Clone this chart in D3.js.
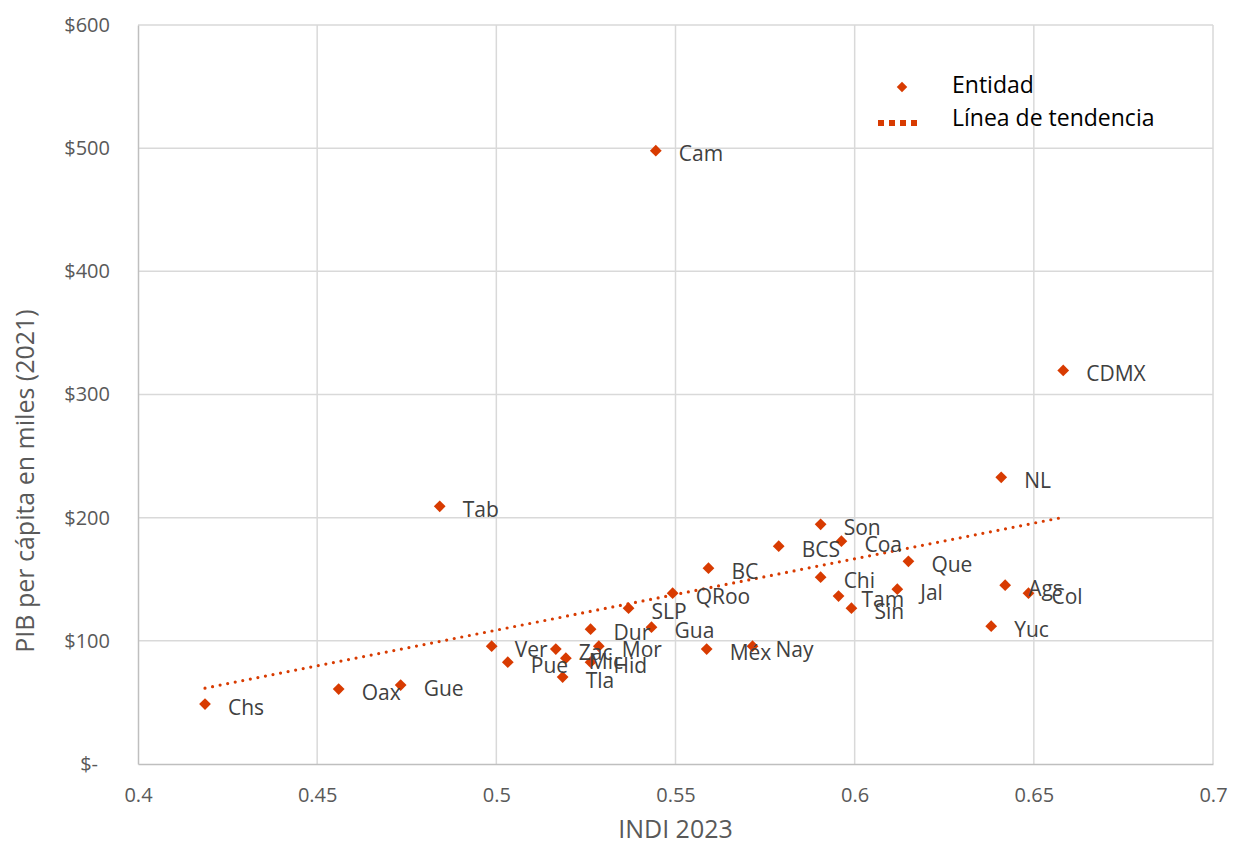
<!DOCTYPE html>
<meta charset="utf-8">
<script src="https://d3js.org/d3.v7.js"></script>
<style>
  body { margin: 0; background: #fff; }
  text { font-family: "Open Sans", sans-serif; }
</style>
<svg id="chart" width="1236" height="846"></svg>
<script>
  // states: INDI 2023 vs PIB per capita (miles, 2021)
  const states = ["Chs", "Oax", "Gue", "Tab", "Ver", "Pue", "Zac", "Mic", "Tla", "Hid",
    "Mor", "Dur", "SLP", "Gua", "QRoo", "Cam", "Méx", "BC", "Nay", "BCS",
    "Son", "Chi", "Coa", "Tam", "Sin", "Jal", "Que", "Yuc", "Ags", "Col", "NL", "CDMX"];
  const indi = [0.4187, 0.4560, 0.4733, 0.4842, 0.4987, 0.5032, 0.5166, 0.5194, 0.5185, 0.5263,
    0.5286, 0.5263, 0.5369, 0.5433, 0.5492, 0.5445, 0.5587, 0.5592, 0.5715, 0.5788,
    0.5905, 0.5905, 0.5963, 0.5955, 0.5991, 0.6119, 0.6150, 0.6381, 0.6420, 0.6485, 0.6409, 0.6582];
  const pib = [48.7, 60.8, 64.1, 209.2, 95.7, 82.7, 93.3, 85.9, 70.6, 82.7,
    95.7, 109.5, 126.5, 111.1, 138.7, 498, 93.3, 159, 95.7, 176.8,
    194.6, 151.7, 180.9, 136.3, 126.5, 141.9, 164.6, 111.9, 145.2, 138.7, 232.8, 319.5];

  // trend line ends
  const trendX = [0.4187, 0.6582];
  const trendY = [61.6, 200.3];

  const xTicks = [0.4, 0.45, 0.5, 0.55, 0.6, 0.65, 0.7];
  const yTicks = [0, 100, 200, 300, 400, 500, 600];
  const legendLabels = ["Entidad", "Línea de tendencia"];

  const color = "#d83b01";
  const svg = d3.select("#chart");
  const margin = { top: 25, right: 23, bottom: 82, left: 138 };
  const width = 1236, height = 846;

  const x = d3.scaleLinear().domain([0.4, 0.7]).range([margin.left, width - margin.right]);
  const y = d3.scaleLinear().domain([0, 600]).range([height - margin.bottom, margin.top]);

  // gridlines
  svg.append("g").selectAll("line.v")
    .data(xTicks.slice(1))
    .join("line")
    .attr("x1", d => x(d)).attr("x2", d => x(d))
    .attr("y1", y(0)).attr("y2", y(600))
    .attr("stroke", "#d9d9d9").attr("stroke-width", 1.5);
  svg.append("g").selectAll("line.h")
    .data(yTicks.slice(1))
    .join("line")
    .attr("x1", x(0.4)).attr("x2", x(0.7))
    .attr("y1", d => y(d)).attr("y2", d => y(d))
    .attr("stroke", "#d9d9d9").attr("stroke-width", 1.5);

  // axes
  const xAxis = svg.append("g")
    .attr("transform", `translate(0,${y(0)})`)
    .call(d3.axisBottom(x).tickValues(xTicks).tickSize(0).tickPadding(24).tickFormat(d => String(d)));
  const yAxis = svg.append("g")
    .attr("transform", `translate(${x(0.4)},0)`)
    .call(d3.axisLeft(y).tickValues(yTicks).tickSize(0).tickPadding(28).tickFormat(d => d === 0 ? "$-" : "$" + d));

  [xAxis, yAxis].forEach(g => {
    g.select(".domain").attr("stroke", "#bfbfbf").attr("stroke-width", 1.5);
    g.selectAll("text").attr("fill", "#595959").style("font-size", "20px")
      .style("font-family", "'Open Sans', sans-serif");
  });
  yAxis.selectAll(".tick").filter(d => d === 0).select("text").attr("dx", -12);

  // axis titles
  svg.append("text")
    .attr("x", (x(0.4) + x(0.7)) / 2).attr("y", 838)
    .attr("text-anchor", "middle")
    .attr("fill", "#595959").style("font-size", "25px")
    .text("INDI 2023");
  svg.append("text")
    .attr("transform", "translate(34,481) rotate(-90)")
    .attr("text-anchor", "middle")
    .attr("fill", "#595959").style("font-size", "25px")
    .text("PIB per cápita en miles (2021)");

  // trend line
  const trend = trendX.map((d, i) => [d, trendY[i]]);
  svg.append("path")
    .datum(trend)
    .attr("d", d3.line().x(d => x(d[0])).y(d => y(d[1])))
    .attr("stroke", color).attr("stroke-width", 3.2)
    .attr("stroke-linecap", "round")
    .attr("stroke-dasharray", "0 7.7")
    .attr("fill", "none");

  // points
  const pts = states.map((s, i) => ({ name: s, x: indi[i], y: pib[i] }));
  const diamond = d3.symbol().type(d3.symbolDiamond2).size(88);

  svg.append("g").selectAll("path")
    .data(pts)
    .join("path")
    .attr("d", diamond)
    .attr("transform", d => `translate(${x(d.x)},${y(d.y)})`)
    .attr("fill", color);

  svg.append("g").selectAll("text")
    .data(pts)
    .join("text")
    .attr("x", d => x(d.x) + 23)
    .attr("y", d => y(d.y) + 10.5)
    .attr("fill", "#404040")
    .style("font-size", "21px")
    .text(d => d.name);

  // legend
  const legend = svg.append("g");
  legend.append("path")
    .attr("d", d3.symbol().type(d3.symbolDiamond2).size(70))
    .attr("transform", "translate(902,87)")
    .attr("fill", color);
  legend.append("line")
    .attr("x1", 878).attr("x2", 920)
    .attr("y1", 123).attr("y2", 123)
    .attr("stroke", color).attr("stroke-width", 6)
    .attr("stroke-dasharray", "6 5");
  legend.selectAll("text")
    .data(legendLabels)
    .join("text")
    .attr("x", 952)
    .attr("y", (d, i) => 93 + i * 33)
    .attr("fill", "#000")
    .style("font-size", "23px")
    .text(d => d);
</script>
